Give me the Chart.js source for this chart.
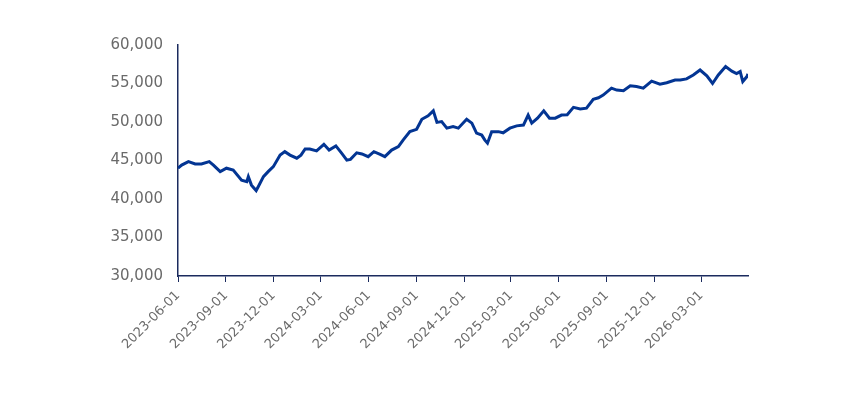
<!DOCTYPE html>
<html>
<head>
<meta charset="utf-8">
<script src="https://cdn.jsdelivr.net/npm/chart.js@4"></script>
<style>
  html, body { margin: 0; padding: 0; background: #fff; }
  #wrap { width: 867px; height: 396px; position: relative; }
</style>
</head>
<body>
<div id="wrap"><canvas id="indexChart"></canvas></div>
<script>
// tick dates along the x axis
const tickDates = ["2023-06-01", "2023-09-01", "2023-12-01", "2024-03-01", "2024-06-01", "2024-09-01",
    "2024-12-01", "2025-03-01", "2025-06-01", "2025-09-01", "2025-12-01", "2026-03-01"];

// series
const dates = [
    "2023-06-01", "2023-06-08", "2023-06-21", "2023-07-04", "2023-07-16", "2023-07-31", "2023-08-08",
    "2023-08-21", "2023-09-02", "2023-09-15", "2023-10-01", "2023-10-11", "2023-10-14", "2023-10-20",
    "2023-10-29", "2023-11-02", "2023-11-12", "2023-11-21", "2023-12-01", "2023-12-14", "2023-12-23",
    "2024-01-02", "2024-01-15", "2024-01-23", "2024-01-31", "2024-02-09", "2024-02-22", "2024-03-07",
    "2024-03-17", "2024-03-30", "2024-04-10", "2024-04-20", "2024-04-27", "2024-05-09", "2024-05-19",
    "2024-05-31", "2024-06-11", "2024-06-23", "2024-07-02", "2024-07-15", "2024-07-28", "2024-08-06",
    "2024-08-19", "2024-09-01", "2024-09-11", "2024-09-23", "2024-10-03", "2024-10-10", "2024-10-19",
    "2024-10-29", "2024-11-10", "2024-11-20", "2024-12-06", "2024-12-16", "2024-12-25", "2025-01-04",
    "2025-01-10", "2025-01-15", "2025-01-23", "2025-02-05", "2025-02-14", "2025-02-27", "2025-03-12",
    "2025-03-25", "2025-04-03", "2025-04-10", "2025-04-21", "2025-05-03", "2025-05-14", "2025-05-25",
    "2025-06-06", "2025-06-17", "2025-06-29", "2025-07-12", "2025-07-24", "2025-08-06", "2025-08-16",
    "2025-08-25", "2025-09-10", "2025-09-20", "2025-10-03", "2025-10-16", "2025-10-28", "2025-11-10",
    "2025-11-26", "2025-12-12", "2025-12-25", "2026-01-10", "2026-01-20", "2026-02-01", "2026-02-14",
    "2026-02-27", "2026-03-12", "2026-03-23", "2026-04-03", "2026-04-17", "2026-04-29", "2026-05-08",
    "2026-05-15", "2026-05-20", "2026-05-28", "2026-05-30"
];
const values = [
    44000, 44400, 44850, 44550, 44550, 44850, 44400,
    43550, 44000, 43750, 42450, 42250, 42900, 41800,
    41100, 41600, 42900, 43550, 44200, 45700, 46150,
    45700, 45300, 45700, 46500, 46500, 46250, 47100,
    46350, 46900, 45950, 45050, 45150, 46000, 45850,
    45500, 46150, 45800, 45500, 46350, 46800, 47650,
    48750, 49050, 50350, 50800, 51450, 49950, 50050,
    49200, 49400, 49200, 50350, 49850, 48550, 48300,
    47650, 47250, 48750, 48750, 48600, 49200, 49500,
    49600, 50900, 49850, 50500, 51450, 50500, 50500,
    50900, 50950, 51900, 51700, 51800, 52950, 53150,
    53500, 54400, 54150, 54050, 54700, 54600, 54400,
    55300, 54900, 55100, 55450, 55450, 55600, 56100,
    56750, 56000, 55000, 56100, 57200, 56600, 56300,
    56550, 55250, 55900, 56250
];

const startDate = "2023-06-01";

function dayOffset(s) {
    const p = s.split("-").map(Number);
    const q = startDate.split("-").map(Number);
    return Math.round((Date.UTC(p[0], p[1] - 1, p[2]) - Date.UTC(q[0], q[1] - 1, q[2])) / 86400000);
}

const tickDays = tickDates.map(dayOffset);
const points = dates.map((d, i) => ({ x: dayOffset(d), y: values[i] }));

const navy = "#1b2b5e";
const textGrey = "#6a6a6a";

new Chart("indexChart", {
    type: "line",
    data: {
        datasets: [{
            data: points,
            borderColor: "#033593",
            borderWidth: 3,
            pointRadius: 0,
            tension: 0,
            fill: false
        }]
    },
    options: {
        responsive: true,
        maintainAspectRatio: false,
        animation: false,
        layout: {
            padding: { left: 0, right: 119, top: 45, bottom: 0 }
        },
        plugins: {
            legend: { display: false },
            tooltip: { enabled: false }
        },
        scales: {
            x: {
                type: "linear",
                min: 0,
                max: dayOffset(dates[dates.length - 1]),
                border: { display: true, color: navy, width: 1.5 },
                grid: { drawOnChartArea: false, drawTicks: true, tickLength: 6, color: navy },
                afterBuildTicks: function (scale) {
                    scale.ticks = tickDays.map(v => ({ value: v }));
                },
                afterFit: function (scale) {
                    scale.height = 120;
                },
                ticks: {
                    autoSkip: false,
                    minRotation: 45,
                    maxRotation: 45,
                    padding: 6,
                    color: textGrey,
                    font: { family: "DejaVu Sans", size: 13 },
                    callback: function (value) {
                        const i = tickDays.indexOf(value);
                        return i >= 0 ? tickDates[i] : "";
                    }
                }
            },
            y: {
                min: 30000,
                max: 60000,
                border: { display: true, color: navy, width: 1.5 },
                grid: { display: false, drawTicks: false },
                afterFit: function (scale) {
                    scale.width = 178;
                },
                ticks: {
                    stepSize: 5000,
                    padding: 15,
                    color: textGrey,
                    font: { family: "DejaVu Sans", size: 15 },
                    callback: function (value) {
                        return value.toLocaleString("en-US");
                    }
                }
            }
        }
    }
});
</script>
</body>
</html>
